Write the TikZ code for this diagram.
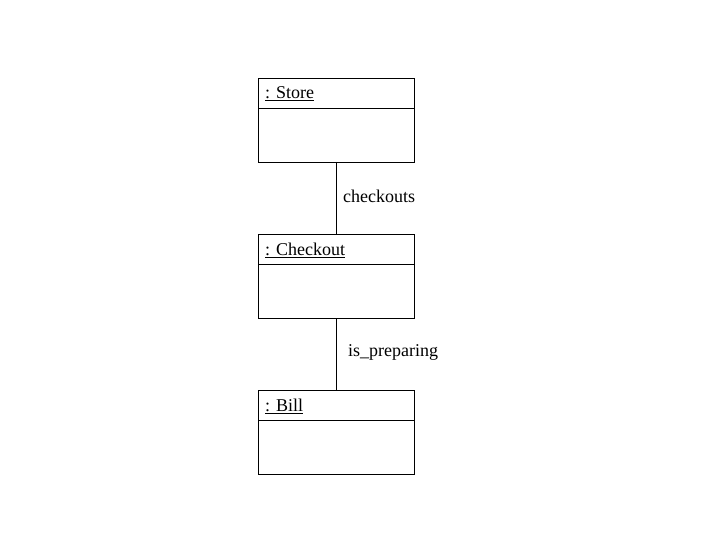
\documentclass[tikz,border=0pt]{standalone}
\usepackage{fontspec}
\setmainfont{Liberation Serif}
\usetikzlibrary{positioning}
\begin{document}
\begin{tikzpicture}[x=1pt, y=-1pt,
    objhead/.style={draw, minimum width=156pt, minimum height=30pt, inner sep=0pt, outer sep=0pt},
    objbody/.style={draw, minimum width=156pt, minimum height=54pt, inner sep=0pt, outer sep=0pt},
    objname/.style={anchor=west, inner sep=0pt, font=\fontsize{18}{21}\selectfont},
    linklabel/.style={anchor=west, inner sep=0pt, font=\fontsize{18}{21}\selectfont}]
    \useasboundingbox (0,0) rectangle (720,540);

    % Draw the object boxes
    \node[objhead] (storehead) at (336,93) {};
    \node[objbody, below=0pt of storehead] (storebody) {};
    \node[objhead] (checkouthead) at (336,249) {};
    \node[objbody, below=0pt of checkouthead] (checkoutbody) {};
    \node[objhead] (billhead) at (336,405) {};
    \node[objbody, below=0pt of billhead] (billbody) {};

    % Object names
    \node[objname] (storename) at (265,94) {\underline{: Store}};
    \node[objname] (checkoutname) at (265,250) {\underline{: Checkout}};
    \node[objname] (billname) at (265,406) {\underline{: Bill}};

    % Draw the links
    \draw (storebody.south) -- (checkouthead.north);
    \draw (checkoutbody.south) -- (billhead.north);

    % Add link labels
    \node[linklabel] (checkoutslabel) at (343,196) {checkouts};
    \node[linklabel] (preparinglabel) at (348,352) {is\_preparing};
\end{tikzpicture}
\end{document}
